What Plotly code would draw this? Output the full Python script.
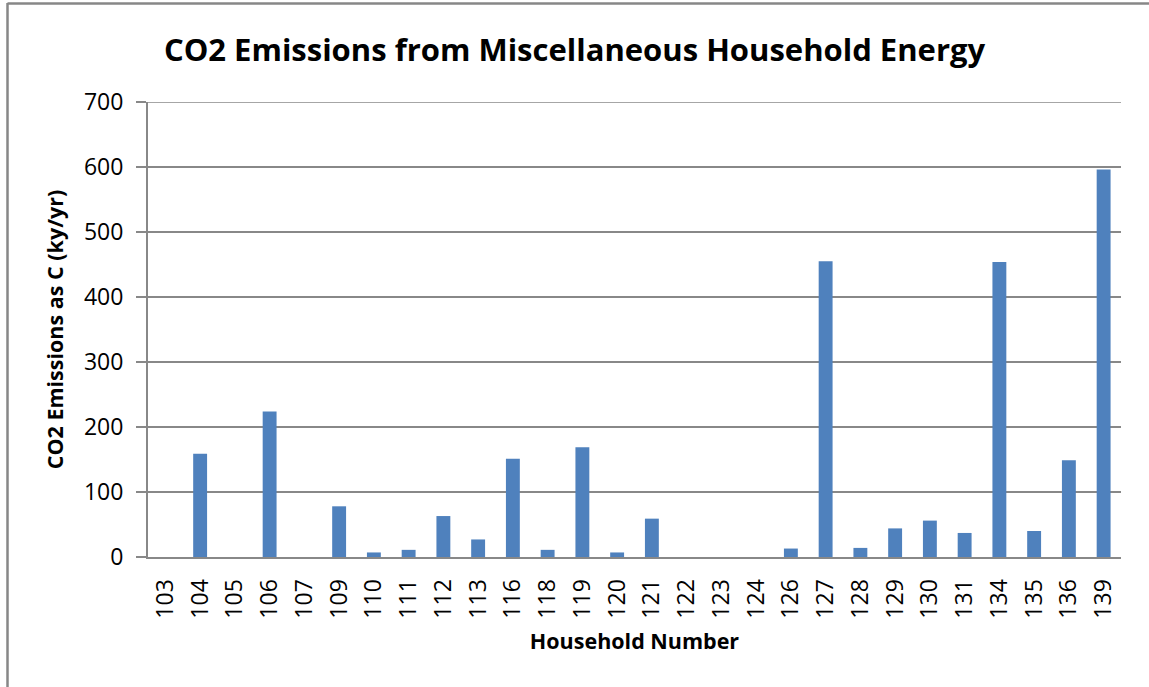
import plotly.graph_objects as go

households = ["103", "104", "105", "106", "107", "109", "110", "111", "112", "113",
              "116", "118", "119", "120", "121", "122", "123", "124", "126", "127",
              "128", "129", "130", "131", "134", "135", "136", "139"]
emissions = [0, 159, 0, 224, 0, 78, 7, 11, 63, 27,
             151, 11, 169, 7, 59, 0, 0, 0, 13, 455,
             14, 44, 56, 37, 454, 40, 149, 596]
y_ticks = [0, 100, 200, 300, 400, 500, 600, 700]

title_text = "CO2 Emissions from Miscellaneous Household Energy"
x_title = "Household Number"
y_title = "CO2 Emissions as C (ky/yr)"

FONT = "Open Sans"
GRID = "#888888"

fig = go.Figure(go.Bar(
    x=households, y=emissions,
    marker=dict(color="#4F81BD", line=dict(width=0)),
))

W, H = 1149, 687
L, R, T, B = 148, 28, 102, 130
pw, ph = W - L - R, H - T - B

def px(x):
    return (x - L) / pw

def py(y):
    return (H - B - y) / ph

fig.update_layout(
    width=W, height=H,
    margin=dict(l=L, r=R, t=T, b=B, autoexpand=False),
    paper_bgcolor="white", plot_bgcolor="white",
    bargap=0.6,
    showlegend=False,
    font=dict(family=FONT, color="#000000"),
    title=dict(text="<b>" + title_text + "</b>", x=0.5, xref="container", xanchor="center",
               y=1 - 50 / H, yref="container", yanchor="middle",
               font=dict(family=FONT, size=31, color="#000000")),
    xaxis=dict(
        type="category",
        tickangle=-90,
        tickfont=dict(family=FONT, size=23, color="#000000"),
        showline=True, linecolor=GRID, linewidth=2,
        showgrid=False, ticks="", ticklabelstandoff=11,
        title=dict(text="<b>" + x_title + "</b>", font=dict(family=FONT, size=21.5, color="#000000"), standoff=16),
    ),
    yaxis=dict(
        range=[0, 700],
        tickvals=y_ticks,
        tickfont=dict(family=FONT, size=23, color="#000000"),
        showgrid=True, gridcolor=GRID, gridwidth=1.5,
        showline=True, linecolor=GRID, linewidth=2,
        ticks="outside", ticklen=10, tickcolor=GRID, tickwidth=1.5,
        ticklabelstandoff=8,
        zeroline=False,
        title=dict(text="<b>" + y_title + "</b>", font=dict(family=FONT, size=21.5, color="#000000"), standoff=14),
    ),
    shapes=[
        dict(type="line", xref="paper", yref="y", x0=0, x1=1, y0=y_ticks[-1], y1=y_ticks[-1],
             line=dict(color=GRID, width=1.5), layer="below"),
        dict(type="line", xref="paper", yref="paper", x0=px(7.5), x1=px(7.5), y0=py(3), y1=py(H),
             line=dict(color="#878787", width=2.5)),
        dict(type="line", xref="paper", yref="paper", x0=px(7.5), x1=px(W), y0=py(3.5), y1=py(3.5),
             line=dict(color="#878787", width=2.5)),
    ],
)

fig.write_html("out.html", config={"displayModeBar": False},
               post_script="document.body.style.margin='0';document.body.style.overflow='hidden';")
